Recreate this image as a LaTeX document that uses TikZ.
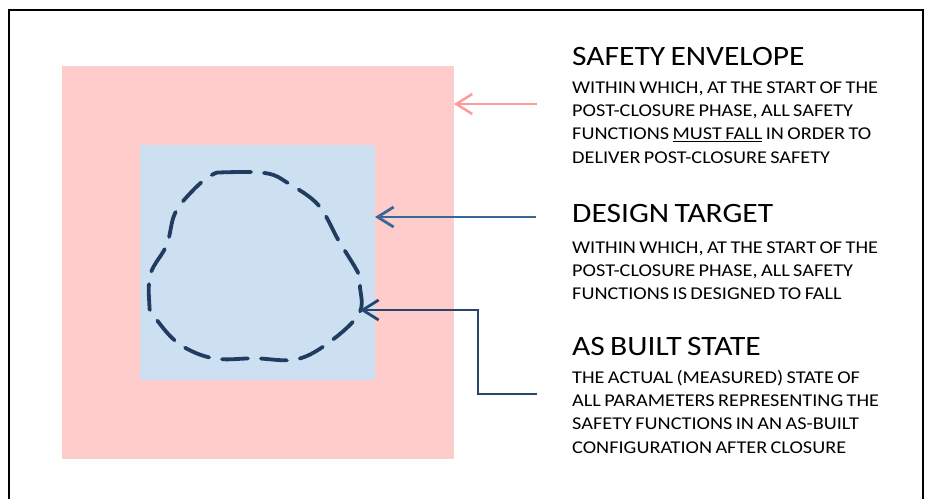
\documentclass[tikz,border=0pt]{standalone}
\usepackage{fontspec}
\setmainfont{Carlito}[FakeStretch=1.125, WordSpace=0.75]
\usetikzlibrary{arrows.meta}
\definecolor{envpink}{RGB}{255,204,204}
\definecolor{dtblue}{RGB}{204,224,241}
\definecolor{arrowpink}{RGB}{255,153,153}
\definecolor{arrowblue}{RGB}{58,102,152}
\definecolor{navyline}{RGB}{40,70,108}
\definecolor{curvenavy}{RGB}{32,60,96}
\tikzset{
  region/.style={inner sep=0pt, outer sep=0pt, anchor=north west},
  title/.style={anchor=base west, inner sep=0pt, font=\fontsize{28}{30}\selectfont},
  body/.style={anchor=base west, inner sep=0pt},
  barb/.style={-{Straight Barb[length=16pt,width=20pt]}},
}
\newcommand{\bodytext}[1]{\parbox[t]{345pt}{\fontsize{18}{23.3}\selectfont #1}}
\begin{document}
\begin{tikzpicture}[x=1pt,y=-1pt]
\useasboundingbox (0,0) rectangle (925,499);
\draw[line width=1.3pt] (9,499) -- (9,10) -- (923,10) -- (923,499);
\node[region, fill=envpink, minimum width=392pt, minimum height=393pt] (env) at (62,66) {};
\node[region, fill=dtblue, minimum width=235pt, minimum height=235pt] (dt) at (140,145) {};
\draw[curvenavy, line width=3.8pt, dash pattern=on 26pt off 13pt, line cap=round]
  plot[smooth cycle, tension=0.6] coordinates {
  (211.7,175) (225,172.3) (266.7,173.3) (288.3,183.3) (318.3,205) (338.3,240)
  (358.3,273.3) (360,286.7) (359.3,313.3) (330,341.7) (296.7,359.3) (255,358.3)
  (213.3,358.3) (178.3,343.3) (153.3,315) (149.3,303.3) (150.7,273.3) (166.7,245)
  (175,213.3) (193.3,190)};
% texts
\node[title] (t1) at (572,65) {SAFETY ENVELOPE};
\node[body] (b1) at (572,93.3) {\bodytext{WITHIN WHICH, AT THE START OF THE\\POST-CLOSURE PHASE, ALL SAFETY\\FUNCTIONS \underline{MUST FALL} IN ORDER TO\\DELIVER POST-CLOSURE SAFETY}};
\node[title] (t2) at (572,222) {DESIGN TARGET};
\node[body] (b2) at (572,253.3) {\bodytext{WITHIN WHICH, AT THE START OF THE\\POST-CLOSURE PHASE, ALL SAFETY\\FUNCTIONS IS DESIGNED TO FALL}};
\node[title] (t3) at (572,355) {AS BUILT STATE};
\node[body] (b3) at (572,383.3) {\bodytext{THE ACTUAL (MEASURED) STATE OF\\ALL PARAMETERS REPRESENTING THE\\SAFETY FUNCTIONS IN AN AS-BUILT\\CONFIGURATION AFTER CLOSURE}};
% arrows
\coordinate (a1s) at (537,104);
\coordinate (a2s) at (536,217);
\coordinate (a3s) at (537,394);
\coordinate (a3t) at (360,310);
\draw[arrowpink, line width=2.4pt, barb] (a1s) -- (a1s -| env.east);
\draw[arrowblue, line width=2.8pt, barb] (a2s) -- (a2s -| dt.east);
\draw[navyline, line width=2.8pt, barb] (a3s) -- ++(-59,0) |- (a3t);
\end{tikzpicture}
\end{document}
